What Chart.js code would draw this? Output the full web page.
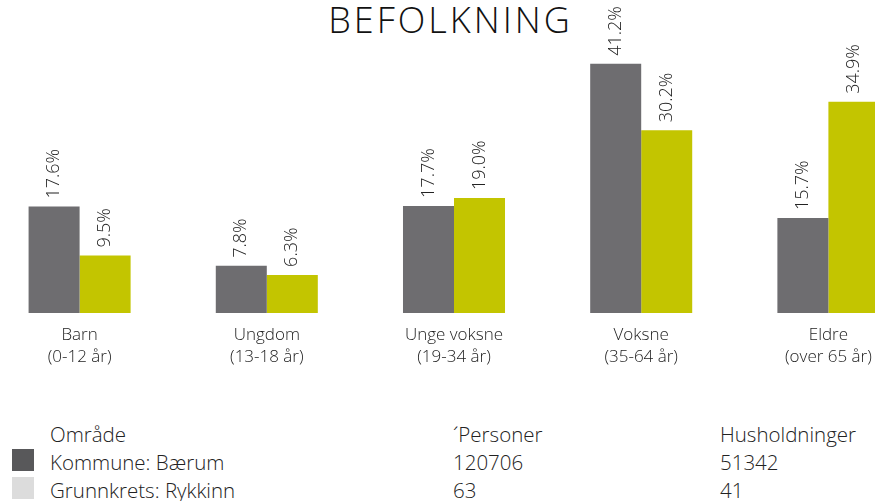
<!DOCTYPE html>
<html>
<head>
<meta charset="utf-8">
<script src="https://cdn.jsdelivr.net/npm/chart.js@4/dist/chart.umd.min.js"></script>
<style>
  html, body { margin: 0; padding: 0; background: #fff; overflow: hidden; }
  body { width: 875px; height: 501px; position: relative; font-family: "Open Sans", sans-serif; font-weight: 300; color: #222; }
  #title { position: absolute; top: 2px; left: 0; width: 901px; text-align: center; font-size: 36px; line-height: 36px; letter-spacing: 3px; color: #111; }
  #wrap { position: absolute; left: -14px; top: 0; width: 936px; height: 383px; }
  .row { position: absolute; left: 0; width: 875px; height: 28px; font-size: 20.5px; line-height: 28px; }
  .row span { position: absolute; top: 0; white-space: nowrap; }
  .sw { position: absolute; left: 12px; top: 1px; width: 22px; height: 22px; }
</style>
</head>
<body>
<div id="title">BEFOLKNING</div>
<div id="wrap"><canvas id="c"></canvas></div>
<div id="legend"></div>
<script>
// categories (two-line labels)
const categories = [
  ['Barn', '(0-12 år)'],
  ['Ungdom', '(13-18 år)'],
  ['Unge voksne', '(19-34 år)'],
  ['Voksne', '(35-64 år)'],
  ['Eldre', '(over 65 år)']
]
const kommune = [17.6, 7.8, 17.7, 41.2, 15.7]
const grunnkrets = [9.5, 6.3, 19.0, 30.2, 34.9]

// legend table
const tableHeader = ['Område', '´Personer', 'Husholdninger']
const areas = ['Kommune: Bærum', 'Grunnkrets: Rykkinn']
const personer = [120706, 63]
const husholdninger = [51342, 41]
const swatches = ['#58585a', '#dcdcdc']

const colDark = '#6e6d70'
const colGreen = '#c3c500'

const valueLabels = {
  id: 'valueLabels',
  afterDatasetsDraw(chart) {
    const ctx = chart.ctx
    ctx.save()
    ctx.font = '300 18px "Open Sans", sans-serif'
    ctx.fillStyle = '#222'
    ctx.textAlign = 'left'
    ctx.textBaseline = 'middle'
    chart.data.datasets.forEach((ds, i) => {
      chart.getDatasetMeta(i).data.forEach((bar, j) => {
        ctx.save()
        ctx.translate(bar.x, bar.y - 8)
        ctx.rotate(-Math.PI / 2)
        ctx.fillText(ds.data[j].toFixed(1) + '%', 0, 0)
        ctx.restore()
      })
    })
    ctx.restore()
  }
}

new Chart(document.getElementById('c'), {
  type: 'bar',
  data: {
    labels: categories,
    datasets: [
      { label: areas[0], data: kommune, backgroundColor: colDark },
      { label: areas[1], data: grunnkrets, backgroundColor: colGreen }
    ]
  },
  options: {
    responsive: true,
    maintainAspectRatio: false,
    animation: false,
    layout: { padding: { top: 10.5, left: 0, right: 0, bottom: 0 } },
    categoryPercentage: 0.545,
    barPercentage: 1.0,
    plugins: {
      legend: { display: false },
      tooltip: { enabled: false },
      title: { display: false }
    },
    scales: {
      x: {
        grid: { display: false, drawTicks: false },
        border: { display: false },
        ticks: {
          color: '#222',
          padding: 12,
          maxRotation: 0,
          autoSkip: false,
          font: { family: '"Open Sans", sans-serif', size: 17, weight: 300, lineHeight: 1.25 }
        },
        afterFit: s => { s.height = 70 }
      },
      y: {
        display: false,
        min: 0,
        max: 50
      }
    }
  },
  plugins: [valueLabels]
})

// build legend table rows
const legend = document.getElementById('legend')
const colX = [50, 453, 720]
const rows = [{ cells: tableHeader, color: null }]
areas.forEach((a, i) => rows.push({ cells: [a, String(personer[i]), String(husholdninger[i])], color: swatches[i] }))
rows.forEach((r, i) => {
  const div = document.createElement('div')
  div.className = 'row'
  div.style.top = (420 + i * 28) + 'px'
  if (r.color) {
    const sw = document.createElement('div')
    sw.className = 'sw'
    sw.style.background = r.color
    div.appendChild(sw)
  }
  r.cells.forEach((t, k) => {
    const s = document.createElement('span')
    s.style.left = colX[k] + 'px'
    s.textContent = t
    div.appendChild(s)
  })
  legend.appendChild(div)
})
</script>
</body>
</html>
